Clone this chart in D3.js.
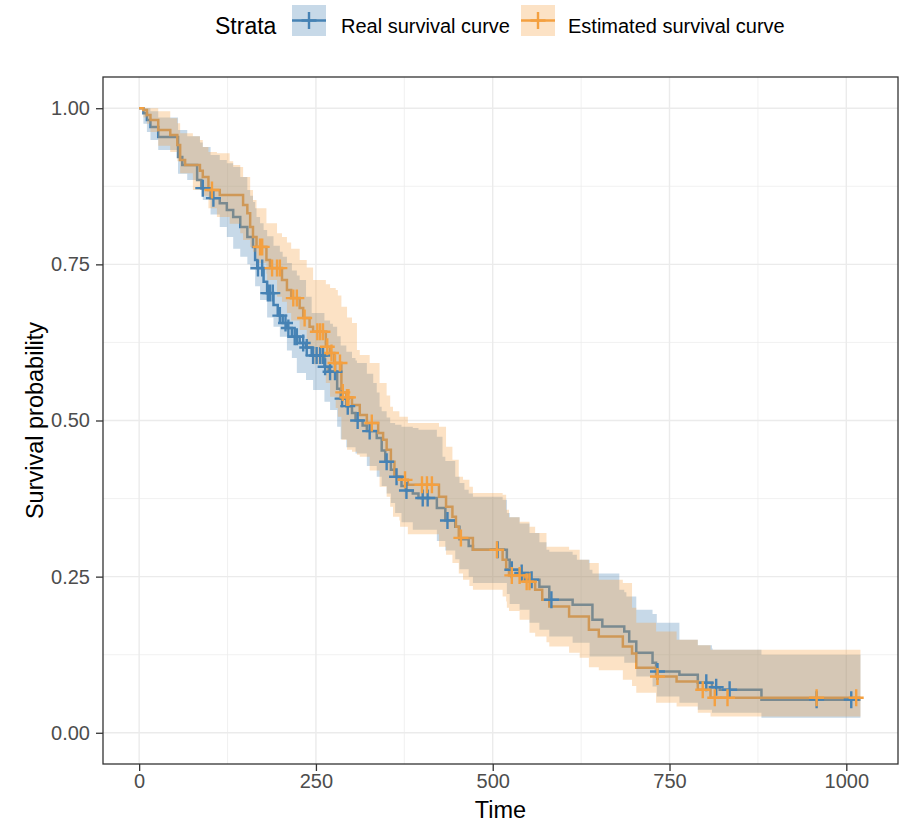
<!DOCTYPE html>
<html>
<head>
<meta charset="utf-8">
<script src="https://cdn.jsdelivr.net/npm/d3@7"></script>
<style>
  body { margin: 0; background: #fff; }
  svg { display: block; font-family: "Liberation Sans", Arial, sans-serif; }
</style>
</head>
<body>
<div id="chart-area"></div>
<script>
// Kaplan-Meier style step curves
var endTime = 1020;

var realTime = [0, 6, 11, 16, 27, 55, 61, 82, 88, 101, 114, 124, 133, 143, 153, 161, 164, 167, 176, 181, 190, 196, 203, 209, 216, 227, 236, 244, 262, 268, 280, 285, 293, 301, 306, 316, 322, 336, 343, 348, 356, 362, 371, 377, 387, 395, 421, 433, 447, 453, 466, 472, 520, 524, 538, 552, 566, 580, 613, 641, 655, 686, 693, 703, 726, 731, 764, 790, 810, 821, 880];
var realSurv = [1, 0.992, 0.981, 0.970, 0.954, 0.922, 0.909, 0.885, 0.872, 0.856, 0.848, 0.837, 0.826, 0.810, 0.794, 0.778, 0.757, 0.744, 0.722, 0.704, 0.685, 0.668, 0.656, 0.648, 0.634, 0.624, 0.617, 0.604, 0.586, 0.578, 0.551, 0.535, 0.523, 0.512, 0.500, 0.492, 0.483, 0.472, 0.452, 0.434, 0.421, 0.410, 0.395, 0.388, 0.383, 0.376, 0.360, 0.340, 0.330, 0.310, 0.299, 0.293, 0.277, 0.261, 0.256, 0.245, 0.234, 0.213, 0.205, 0.181, 0.170, 0.162, 0.146, 0.128, 0.112, 0.098, 0.093, 0.080, 0.073, 0.069, 0.053];
var realCensor = [90, 105, 168, 174, 182, 185, 189, 199, 207, 211, 220, 223, 232, 237, 246, 251, 256, 260, 263, 270, 277, 287, 295, 309, 326, 350, 364, 378, 401, 408, 436, 507, 527, 541, 555, 583, 733, 802, 816, 835, 958, 1007];

var realBandTime = [0, 6, 11, 16, 27, 55, 68, 86, 90, 101, 114, 124, 133, 143, 153, 157, 161, 164, 166, 171, 176, 181, 190, 199, 203, 209, 216, 223, 227, 236, 244, 246, 262, 270, 274, 280, 285, 293, 301, 306, 308, 322, 331, 336, 340, 343, 350, 355, 356, 362, 371, 377, 387, 395, 421, 429, 433, 447, 453, 460, 466, 472, 514, 520, 524, 538, 552, 566, 576, 580, 613, 619, 637, 641, 679, 686, 689, 703, 726, 732, 764, 790, 810, 811, 880];
var realLower = [1, 0.975, 0.962, 0.949, 0.933, 0.895, 0.885, 0.869, 0.853, 0.830, 0.810, 0.794, 0.775, 0.762, 0.750, 0.741, 0.741, 0.715, 0.715, 0.693, 0.693, 0.665, 0.650, 0.634, 0.634, 0.612, 0.600, 0.576, 0.576, 0.565, 0.565, 0.549, 0.530, 0.517, 0.517, 0.490, 0.470, 0.457, 0.457, 0.447, 0.447, 0.427, 0.427, 0.410, 0.410, 0.395, 0.383, 0.383, 0.368, 0.352, 0.337, 0.337, 0.325, 0.325, 0.307, 0.307, 0.292, 0.278, 0.262, 0.262, 0.250, 0.240, 0.240, 0.222, 0.206, 0.197, 0.176, 0.165, 0.165, 0.154, 0.144, 0.144, 0.122, 0.122, 0.122, 0.112, 0.112, 0.090, 0.074, 0.058, 0.048, 0.037, 0.032, 0.032, 0.024];
var realUpper = [1, 1, 1, 0.995, 0.985, 0.965, 0.955, 0.945, 0.938, 0.925, 0.917, 0.912, 0.906, 0.890, 0.869, 0.860, 0.850, 0.840, 0.826, 0.816, 0.805, 0.795, 0.780, 0.770, 0.762, 0.752, 0.740, 0.732, 0.725, 0.698, 0.672, 0.672, 0.660, 0.655, 0.650, 0.635, 0.620, 0.610, 0.600, 0.596, 0.592, 0.575, 0.560, 0.545, 0.522, 0.515, 0.505, 0.496, 0.496, 0.493, 0.490, 0.490, 0.488, 0.485, 0.474, 0.442, 0.435, 0.410, 0.400, 0.389, 0.383, 0.378, 0.373, 0.352, 0.345, 0.335, 0.320, 0.305, 0.293, 0.290, 0.285, 0.277, 0.261, 0.255, 0.229, 0.225, 0.218, 0.197, 0.190, 0.176, 0.149, 0.140, 0.135, 0.133, 0.125];

var estTime = [0, 6, 11, 16, 27, 44, 54, 58, 65, 86, 90, 98, 114, 147, 153, 157, 161, 166, 180, 185, 202, 209, 215, 227, 232, 241, 246, 264, 270, 276, 286, 293, 301, 312, 322, 338, 345, 350, 356, 361, 368, 380, 424, 434, 443, 448, 452, 472, 514, 519, 523, 545, 560, 570, 580, 608, 636, 650, 684, 697, 703, 731, 760, 790, 808];
var estSurv = [1, 0.997, 0.989, 0.981, 0.965, 0.957, 0.941, 0.917, 0.909, 0.900, 0.890, 0.869, 0.861, 0.845, 0.832, 0.810, 0.794, 0.778, 0.757, 0.744, 0.725, 0.709, 0.696, 0.680, 0.664, 0.650, 0.642, 0.618, 0.608, 0.592, 0.545, 0.537, 0.525, 0.509, 0.496, 0.480, 0.469, 0.453, 0.434, 0.410, 0.405, 0.397, 0.378, 0.362, 0.346, 0.330, 0.312, 0.293, 0.277, 0.262, 0.252, 0.242, 0.229, 0.213, 0.202, 0.186, 0.165, 0.154, 0.138, 0.127, 0.104, 0.090, 0.082, 0.069, 0.056];
var estCensor = [103, 171, 174, 188, 195, 199, 218, 223, 234, 252, 256, 260, 266, 272, 277, 284, 288, 294, 296, 329, 376, 400, 407, 414, 455, 506, 527, 538, 548, 552, 733, 797, 814, 832, 958, 1014];

var estBandTime = [0, 6, 11, 16, 27, 44, 54, 58, 76, 86, 90, 98, 110, 114, 128, 133, 143, 147, 157, 161, 166, 167, 180, 181, 195, 202, 209, 215, 227, 237, 246, 264, 270, 278, 281, 286, 294, 301, 308, 312, 326, 340, 350, 355, 359, 368, 369, 380, 424, 434, 443, 452, 458, 467, 472, 514, 519, 520, 523, 538, 552, 560, 576, 580, 608, 623, 636, 650, 684, 697, 703, 731, 760, 790, 808];
var estLower = [1, 0.985, 0.975, 0.962, 0.940, 0.930, 0.915, 0.896, 0.869, 0.869, 0.860, 0.840, 0.826, 0.826, 0.815, 0.815, 0.800, 0.789, 0.778, 0.770, 0.760, 0.752, 0.735, 0.725, 0.698, 0.690, 0.672, 0.660, 0.645, 0.618, 0.590, 0.560, 0.538, 0.520, 0.506, 0.469, 0.453, 0.450, 0.445, 0.442, 0.420, 0.394, 0.378, 0.362, 0.346, 0.340, 0.330, 0.318, 0.298, 0.285, 0.272, 0.255, 0.245, 0.235, 0.229, 0.218, 0.210, 0.200, 0.195, 0.181, 0.160, 0.154, 0.145, 0.138, 0.128, 0.120, 0.105, 0.100, 0.085, 0.075, 0.064, 0.048, 0.042, 0.032, 0.026];
var estUpper = [1, 1, 1, 1, 0.995, 0.984, 0.976, 0.960, 0.955, 0.949, 0.938, 0.930, 0.928, 0.928, 0.915, 0.909, 0.906, 0.890, 0.869, 0.853, 0.840, 0.840, 0.816, 0.816, 0.800, 0.794, 0.785, 0.775, 0.757, 0.745, 0.725, 0.718, 0.712, 0.709, 0.700, 0.682, 0.665, 0.656, 0.613, 0.605, 0.592, 0.560, 0.540, 0.522, 0.515, 0.506, 0.506, 0.496, 0.490, 0.458, 0.437, 0.410, 0.405, 0.394, 0.384, 0.381, 0.357, 0.357, 0.345, 0.338, 0.330, 0.320, 0.298, 0.298, 0.293, 0.277, 0.272, 0.245, 0.240, 0.200, 0.176, 0.162, 0.149, 0.140, 0.133];

var strata = ['Real survival curve', 'Estimated survival curve'];
var xTicks = [0, 250, 500, 750, 1000];
var xMinor = [125, 375, 625, 875];
var yTicks = [0, 0.25, 0.5, 0.75, 1];
var yMinor = [0.125, 0.375, 0.625, 0.875];

var colReal = '#4682B4', colEst = '#F4A040';

var width = 900, height = 822;
var panel = { left: 103, right: 898, top: 77, bottom: 764 };

var svg = d3.select('#chart-area')
  .append('svg')
    .attr('width', width)
    .attr('height', height);

var x = d3.scaleLinear().domain([-51.1, 1073.1]).range([panel.left, panel.right]);
var y = d3.scaleLinear().domain([-0.05, 1.05]).range([panel.bottom, panel.top]);

// Grid
var grid = svg.append('g');
grid.selectAll('.xminor').data(xMinor).enter().append('line')
  .attr('x1', d => x(d)).attr('x2', d => x(d))
  .attr('y1', panel.top).attr('y2', panel.bottom)
  .attr('stroke', '#ebebeb').attr('stroke-width', 0.7);
grid.selectAll('.yminor').data(yMinor).enter().append('line')
  .attr('y1', d => y(d)).attr('y2', d => y(d))
  .attr('x1', panel.left).attr('x2', panel.right)
  .attr('stroke', '#ebebeb').attr('stroke-width', 0.7);
grid.selectAll('.xmajor').data(xTicks).enter().append('line')
  .attr('x1', d => x(d)).attr('x2', d => x(d))
  .attr('y1', panel.top).attr('y2', panel.bottom)
  .attr('stroke', '#ebebeb').attr('stroke-width', 1.4);
grid.selectAll('.ymajor').data(yTicks).enter().append('line')
  .attr('y1', d => y(d)).attr('y2', d => y(d))
  .attr('x1', panel.left).attr('x2', panel.right)
  .attr('stroke', '#ebebeb').attr('stroke-width', 1.4);

function stepPoints(times, surv) {
  var pts = times.map((t, i) => [t, surv[i]]);
  pts.push([endTime, surv[surv.length - 1]]);
  return pts;
}
function bandPoints(times, lower, upper) {
  var pts = times.map((t, i) => [t, lower[i], upper[i]]);
  pts.push([endTime, lower[lower.length - 1], upper[upper.length - 1]]);
  return pts;
}
function survAt(times, surv, t) {
  return surv[d3.bisectRight(times, t) - 1];
}

var groups = [
  { name: strata[0], color: colReal, line: stepPoints(realTime, realSurv),
    band: bandPoints(realBandTime, realLower, realUpper),
    censor: realCensor.map(t => [t, survAt(realTime, realSurv, t)]) },
  { name: strata[1], color: colEst, line: stepPoints(estTime, estSurv),
    band: bandPoints(estBandTime, estLower, estUpper),
    censor: estCensor.map(t => [t, survAt(estTime, estSurv, t)]) }
];

var line = d3.line().curve(d3.curveStepAfter)
  .x(d => x(d[0])).y(d => y(d[1]));
var area = d3.area().curve(d3.curveStepAfter)
  .x(d => x(d[0])).y0(d => y(d[1])).y1(d => y(d[2]));

// lines first, ribbons on top (as in ggsurvplot)
groups.forEach(function(g) {
  svg.append('path')
    .attr('d', line(g.line))
    .attr('fill', 'none')
    .attr('stroke', g.color)
    .attr('stroke-width', 2.5);
});
groups.forEach(function(g) {
  svg.append('path')
    .attr('d', area(g.band))
    .attr('fill', g.color)
    .attr('fill-opacity', 0.3);
});

var cross = 'M-7.5,0H7.5M0,-8.5V8.5';
groups.forEach(function(g) {
  svg.append('g').selectAll('path').data(g.censor).enter().append('path')
    .attr('d', cross)
    .attr('transform', d => 'translate(' + x(d[0]) + ',' + y(d[1]) + ')')
    .attr('stroke', g.color)
    .attr('stroke-width', 2.4)
    .attr('fill', 'none');
});

// Panel border
svg.append('rect')
  .attr('x', panel.left).attr('y', panel.top)
  .attr('width', panel.right - panel.left)
  .attr('height', panel.bottom - panel.top)
  .attr('fill', 'none')
  .attr('stroke', '#333333')
  .attr('stroke-width', 1.3);

// Axes
var xAxis = svg.append('g')
  .attr('transform', 'translate(0,' + panel.bottom + ')')
  .call(d3.axisBottom(x).tickValues(xTicks).tickSize(7).tickPadding(3)
    .tickFormat(d3.format('d')));
var yAxis = svg.append('g')
  .attr('transform', 'translate(' + panel.left + ',0)')
  .call(d3.axisLeft(y).tickValues(yTicks).tickSize(7).tickPadding(6)
    .tickFormat(d3.format('.2f')));
[xAxis, yAxis].forEach(function(a) {
  a.select('.domain').remove();
  a.selectAll('line').attr('stroke', '#333333').attr('stroke-width', 1.3);
  a.selectAll('text')
    .attr('fill', '#4d4d4d')
    .style('font-size', '20px')
    .style('font-family', '"Liberation Sans", Arial, sans-serif');
});

// Axis titles
svg.append('text')
  .attr('x', (panel.left + panel.right) / 2)
  .attr('y', 818)
  .attr('text-anchor', 'middle')
  .attr('font-size', '23.5px')
  .text('Time');

svg.append('text')
  .attr('transform', 'translate(43,' + (panel.top + panel.bottom) / 2 + ') rotate(-90)')
  .attr('text-anchor', 'middle')
  .attr('font-size', '23.5px')
  .text('Survival probability');

// Legend
var legend = svg.append('g');
legend.append('text')
  .attr('x', 215).attr('y', 34)
  .attr('font-size', '23px')
  .text('Strata');

var keyX = [292, 521], labelX = [341, 568];
groups.forEach(function(g, i) {
  var k = legend.append('g').attr('transform', 'translate(' + keyX[i] + ',5)');
  k.append('rect')
    .attr('width', 34).attr('height', 31)
    .attr('fill', g.color).attr('fill-opacity', 0.3);
  k.append('line')
    .attr('x1', 0).attr('x2', 34).attr('y1', 15.5).attr('y2', 15.5)
    .attr('stroke', g.color).attr('stroke-width', 2.5);
  k.append('path')
    .attr('d', cross)
    .attr('transform', 'translate(17,15.5)')
    .attr('stroke', g.color).attr('stroke-width', 2.4);
  legend.append('text')
    .attr('x', labelX[i]).attr('y', 33)
    .attr('font-size', '20px')
    .text(g.name);
});
</script>
</body>
</html>
